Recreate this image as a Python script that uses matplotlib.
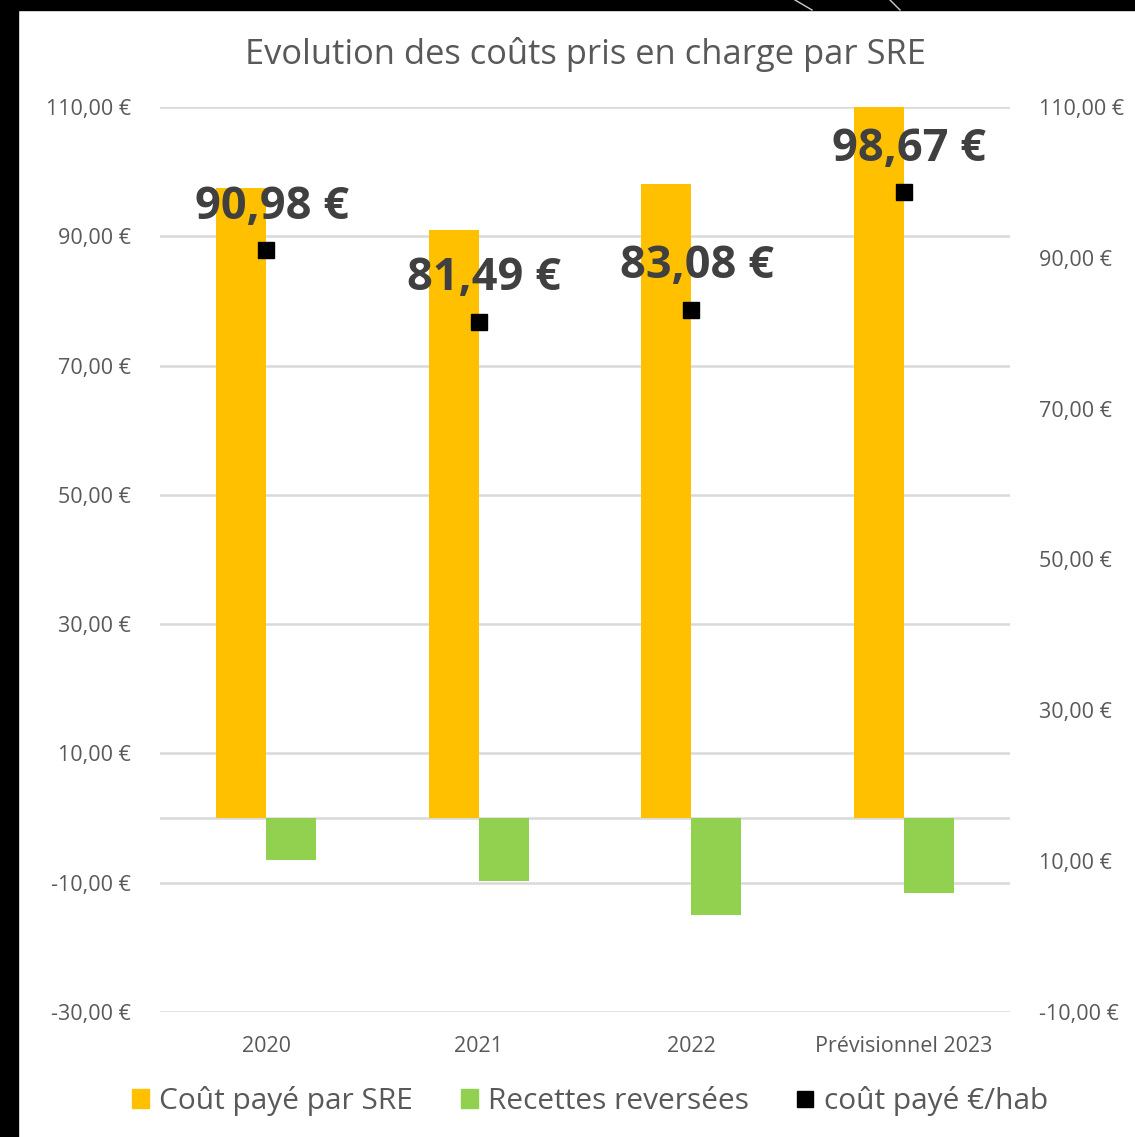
import matplotlib.pyplot as plt
from matplotlib.patches import Rectangle
from matplotlib.lines import Line2D
import numpy as np

# Donnees
categories = ["2020", "2021", "2022", "Prévisionnel 2023"]
cout_sre = [97.5, 91.0, 98.1, 110.0]
recettes = [-6.5, -9.7, -15.0, -11.6]
cout_hab = [90.98, 81.49, 83.08, 98.67]
labels_hab = ["90,98 €", "81,49 €", "83,08 €", "98,67 €"]

left_ticks = [-30, -10, 10, 30, 50, 70, 90, 110]
right_ticks = [-10, 10, 30, 50, 70, 90, 110]

orange = "#FFC000"
vert = "#92D050"
gris_txt = "#595959"
gris_grid = "#D9D9D9"

plt.rcParams['font.family'] = ['Open Sans', 'DejaVu Sans']


def euro(v):
    return f"{v:.2f}".replace(".", ",") + " €"


fig = plt.figure(figsize=(11.35, 11.37), dpi=100)
ax = fig.add_axes([160 / 1135, 1 - 1012 / 1137, 850 / 1135, 905 / 1137])
ax2 = ax.twinx()

x = np.arange(len(categories))
w = 0.235

ax.set_xlim(-0.5, 3.5)
ax.set_ylim(-30, 110)
ax.set_yticks(left_ticks)
ax.set_yticklabels([euro(v) for v in left_ticks])
ax.yaxis.grid(True, color=gris_grid, lw=1.8)
ax.axhline(0, color=gris_grid, lw=1.8, zorder=1)
ax.set_axisbelow(True)

ax.bar(x - w / 2, cout_sre, w, color=orange, zorder=2, label="Coût payé par SRE")
ax.bar(x + w / 2, recettes, w, color=vert, zorder=2, label="Recettes reversées")

ax2.set_ylim(-10, 110)
ax2.set_yticks(right_ticks)
ax2.set_yticklabels([euro(v) for v in right_ticks])
ax2.plot(x, cout_hab, ls="none", marker="s", ms=11, color="black", label="coût payé €/hab")
for xi, yi, lab in zip(x, cout_hab, labels_hab):
    ax2.annotate(lab, (xi, yi), xytext=(4, 31), textcoords="offset points",
                 ha="center", va="center", fontsize=32.5, fontweight="bold",
                 color="#404040")

ax.set_xticks(x)
ax.set_xticklabels(categories)
for a in (ax, ax2):
    for s in a.spines.values():
        s.set_visible(False)
    a.tick_params(length=0, labelsize=15.5, labelcolor=gris_txt)
ax.tick_params(axis="y", pad=21)
ax2.tick_params(axis="y", pad=21)
ax.tick_params(axis="x", pad=17)

fig.text(585 / 1135, 1 - 54 / 1137, "Evolution des coûts pris en charge par SRE",
         ha="center", va="center", fontsize=24.8, color=gris_txt)

# Legende
handles = [Rectangle((0, 0), 1, 1, color=orange), Rectangle((0, 0), 1, 1, color=vert),
           Line2D([], [], ls="none", marker="s", ms=11, color="black")]
leg = fig.legend(handles, ["Coût payé par SRE", "Recettes reversées", "coût payé €/hab"],
                 loc="center", bbox_to_anchor=(590 / 1135, 1 - 1101 / 1137), ncol=3,
                 frameon=False, fontsize=21.5, handlelength=0.57, handleheight=0.57,
                 handletextpad=0.35, columnspacing=1.6)
for t in leg.get_texts():
    t.set_color(gris_txt)

# Cadre noir
fig.patches.append(Rectangle((0, 0), 18 / 1135, 1, transform=fig.transFigure, color="black", zorder=0))
fig.patches.append(Rectangle((0, 1 - 10 / 1137), 1, 10 / 1137, transform=fig.transFigure, color="black", zorder=0))
fig.lines.append(Line2D([795 / 1135, 812 / 1135], [1, 1 - 10 / 1137], transform=fig.transFigure, color="#cccccc", lw=1))
fig.lines.append(Line2D([890 / 1135, 900 / 1135], [1, 1 - 10 / 1137], transform=fig.transFigure, color="#cccccc", lw=1))

fig.savefig("out.png", dpi=100)
